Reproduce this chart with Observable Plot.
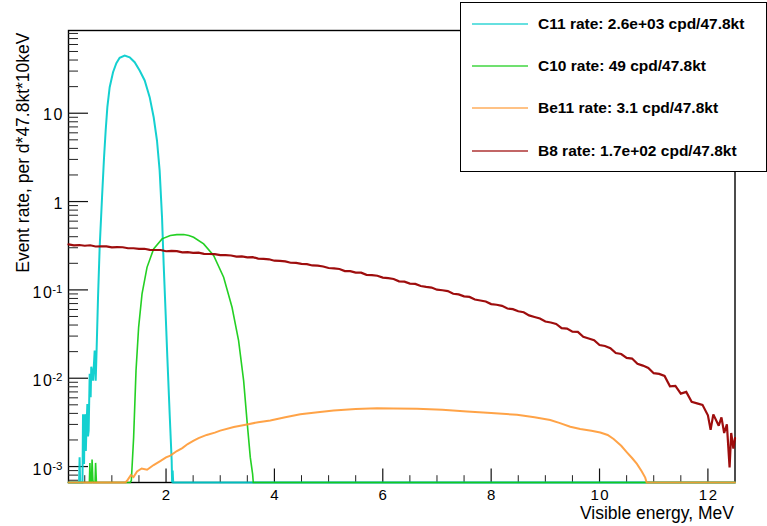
<!DOCTYPE html>
<html><head><meta charset="utf-8">
<script src="https://cdn.jsdelivr.net/npm/d3@7"></script>
<script src="https://cdn.jsdelivr.net/npm/@observablehq/plot@0.6"></script>
<style>
html,body{margin:0;padding:0;background:#fff;}
#wrap{position:relative;width:767px;height:526px;overflow:hidden;font-family:"Liberation Sans",Arial,sans-serif;}
#legend{position:absolute;left:460px;top:2px;width:307px;height:170px;box-sizing:border-box;border:1px solid #000;background:#fff;}
.entry-line{position:absolute;left:11px;width:56px;height:2px;opacity:0.6;}
.entry-text{position:absolute;left:77px;font-weight:bold;font-size:15.5px;line-height:18px;white-space:nowrap;color:#000;}
</style></head><body><div id="wrap"></div>
<script>
// ---- series (energy MeV, rate per d*47.8kt*10keV); 0 = empty bin ----
const c11 = [
[0.20,0],[0.395,0],[0.405,0.00127],[0.415,0],[0.458,0],[0.468,0.0039],[0.478,0.0012],[0.487,0.00107],[0.498,0.0037],[0.511,0.0039],[0.520,0.0015],[0.530,0.00255],[0.548,0.0051],[0.560,0.0022],[0.572,0.00255],[0.591,0.0112],[0.609,0.0061],[0.620,0.0135],[0.634,0.0120],[0.653,0.0094],[0.683,0.0206],[0.702,0.0094],[0.720,0.0224],[0.745,0.0824],[0.775,0.303],[0.819,1.12],[0.856,3.18],[0.886,6.37],[0.917,11.7],[0.960,19.7],[1.022,29.1],[1.083,36.8],[1.144,42.4],[1.237,45.0],[1.329,43.0],[1.421,37.8],[1.513,30.5],[1.606,23.5],[1.698,15.2],[1.772,9.0],[1.833,4.91],[1.882,2.24],[1.926,0.664],[1.956,0.197],[1.993,0.0534],[2.024,0.0173],[2.067,0.00394],[2.104,0.00117],[2.112,0],[2.122,0.0009],[2.132,0],[12.5,0]
];
const c10 = [
[0.20,0],[0.585,0],[0.595,0.0011],[0.605,0],[0.625,0],[0.635,0.0012],[0.650,0.0007],[0.660,0],[0.690,0],[0.700,0.0011],[0.715,0],[1.340,0],[1.360,0.0007],[1.402,0.00214],[1.446,0.0122],[1.494,0.0377],[1.557,0.090],[1.649,0.180],[1.771,0.291],[1.926,0.378],[2.079,0.412],[2.200,0.422],[2.325,0.423],[2.420,0.412],[2.509,0.394],[2.694,0.332],[2.878,0.245],[3.063,0.139],[3.218,0.0636],[3.339,0.0267],[3.432,0.0094],[3.494,0.00331],[3.555,0.00127],[3.598,0.00082],[3.610,0],[12.5,0]
];
const be11 = [
[0.20,0],[1.250,0],[1.280,0.00069],[1.350,0.00080],[1.400,0.00076],[1.465,0.00088],[1.550,0.00095],[1.650,0.00092],[1.771,0.00104],[1.900,0.00116],[2.000,0.00127],[2.079,0.00133],[2.200,0.00150],[2.300,0.00162],[2.400,0.00180],[2.510,0.00196],[2.600,0.00210],[2.750,0.00228],[2.900,0.00242],[3.000,0.00255],[3.250,0.00280],[3.494,0.00300],[3.700,0.00318],[3.924,0.00333],[4.200,0.00362],[4.478,0.00392],[4.800,0.00412],[5.092,0.00430],[5.500,0.00447],[5.893,0.00458],[6.200,0.00455],[6.631,0.00450],[7.100,0.00440],[7.554,0.00420],[8.000,0.00405],[8.476,0.00385],[8.800,0.00362],[9.090,0.00336],[9.270,0.00310],[9.460,0.00282],[9.644,0.00266],[9.850,0.00255],[10.013,0.00243],[10.150,0.00228],[10.260,0.00205],[10.400,0.00172],[10.505,0.00145],[10.600,0.00125],[10.690,0.00107],[10.780,0.00088],[10.843,0.00075],[10.870,0],[12.5,0]
];
const b8 = [
[0.2,0.327],[0.3,0.319],[0.4,0.322],[0.5,0.316],[0.6,0.320],[0.7,0.310],[0.8,0.311],[0.9,0.311],[1.0,0.303],[1.1,0.305],
[1.2,0.304],[1.3,0.296],[1.4,0.296],[1.5,0.291],[1.6,0.292],[1.7,0.284],[1.8,0.283],[1.9,0.283],[2.0,0.274],[2.1,0.276],
[2.2,0.275],[2.3,0.266],[2.4,0.268],[2.5,0.263],[2.6,0.264],[2.7,0.256],[2.8,0.255],[2.9,0.254],[3.0,0.247],[3.1,0.247],
[3.2,0.245],[3.3,0.238],[3.4,0.239],[3.5,0.234],[3.6,0.235],[3.7,0.226],[3.8,0.224],[3.9,0.222],[4.0,0.214],[4.1,0.213],
[4.2,0.210],[4.3,0.203],[4.4,0.202],[4.5,0.197],[4.6,0.196],[4.7,0.189],[4.8,0.188],[4.9,0.184],[5.0,0.177],[5.1,0.175],
[5.2,0.1725],[5.3,0.1635],[5.4,0.1633],[5.5,0.1567],[5.6,0.1568],[5.7,0.1482],[5.8,0.147],[5.9,0.1447],[6.0,0.1379],[6.1,0.1358],
[6.2,0.133],[6.3,0.1251],[6.4,0.124],[6.5,0.118],[6.6,0.117],[6.7,0.1107],[6.8,0.108],[6.9,0.1063],[7.0,0.1005],[7.1,0.0991],
[7.2,0.0969],[7.3,0.0904],[7.4,0.0890],[7.5,0.0844],[7.6,0.0833],[7.7,0.0778],[7.8,0.0759],[7.9,0.0739],[8.0,0.0691],[8.1,0.0679],
[8.2,0.0660],[8.3,0.0616],[8.4,0.0606],[8.5,0.0573],[8.6,0.0558],[8.7,0.0514],[8.8,0.0494],[8.9,0.0475],[9.0,0.0438],[9.1,0.0427],
[9.2,0.0412],[9.3,0.0369],[9.4,0.0365],[9.5,0.0337],[9.6,0.0335],[9.7,0.0295],[9.8,0.0282],[9.9,0.0270],[10.0,0.0238],[10.1,0.0232],
[10.2,0.0219],[10.3,0.0193],[10.4,0.0188],[10.5,0.0170],[10.6,0.0167],[10.7,0.0146],[10.8,0.0139],[10.9,0.0131],[11.0,0.0114],[11.1,0.0112],
[11.2,0.0106],[11.3,0.0081],[11.4,0.0082],[11.5,0.0067],[11.6,0.0070],[11.7,0.0054],[11.8,0.0052],[11.9,0.0050],[12.0,0.0038],[12.05,0.0026],
[12.1,0.0039],[12.2,0.0029],[12.25,0.0036],[12.3,0.0024],[12.35,0.0030],[12.4,0.00098],[12.43,0.0024],[12.47,0.0016],[12.5,0.0021]
];

// ---- legend ----
const seriesNames  = ["C11", "C10", "Be11", "B8"];
const seriesRates  = ["2.6e+03", "49", "3.1", "1.7e+02"];
const seriesColors = ["#00cccc", "#11cc11", "#ff9933", "#990000"];

// ---- axes ----
const xDomain = [0.2, 12.5];
const yDomain = [6.6e-4, 86.4];
const xMajorTicks = [2, 4, 6, 8, 10, 12];
const xMinorTicks = [0.5, 1, 1.5, 2.5, 3, 3.5, 4.5, 5, 5.5, 6.5, 7, 7.5, 8.5, 9, 9.5, 10.5, 11, 11.5];
const yMajorTicks = [0.001, 0.01, 0.1, 1, 10];
const yMinorTicks = [7e-4, 8e-4, 9e-4,
  2e-3, 3e-3, 4e-3, 5e-3, 6e-3, 7e-3, 8e-3, 9e-3,
  0.02, 0.03, 0.04, 0.05, 0.06, 0.07, 0.08, 0.09,
  0.2, 0.3, 0.4, 0.5, 0.6, 0.7, 0.8, 0.9,
  2, 3, 4, 5, 6, 7, 8, 9,
  20, 30, 40, 50, 60, 70, 80];
const yLabelValues = [10, 1, 0.1, 0.01, 0.001];
const yLabelBase = ["10", "1", "10", "10", "10"];
const yLabelExp  = ["", "", "-1", "-2", "-3"];
const xTitle = "Visible energy, MeV";
const yTitle = "Event rate, per d*47.8kt*10keV";

const YMIN = yDomain[0];
const series = [c11, c10, be11, b8];
const widths = [2, 1.6, 2, 2.2];
const opacities = [0.92, 0.92, 0.9, 0.95];

const chart = Plot.plot({
  width: 767, height: 526,
  marginLeft: 68, marginRight: 32.5, marginTop: 30, marginBottom: 44,
  x: {domain: xDomain, axis: null},
  y: {type: "log", domain: yDomain, axis: null},
  style: {fontFamily: "'Liberation Sans', Arial, sans-serif", background: "white", color: "black"},
  marks: [
    Plot.frame({stroke: "black", strokeWidth: 1.4}),
    Plot.axisX(xMinorTicks, {anchor: "bottom", tickSize: -6.8, tickFormat: () => "", label: null, stroke: "#222"}),
    Plot.axisX(xMajorTicks, {anchor: "bottom", tickSize: -13.5, tickFormat: () => "", label: null, stroke: "#111", strokeWidth: 1.2}),
    Plot.axisY(yMinorTicks, {anchor: "left", tickSize: -10, tickFormat: () => "", label: null, stroke: "#222"}),
    Plot.axisY(yMajorTicks, {anchor: "left", tickSize: -20, tickFormat: () => "", label: null, stroke: "#111", strokeWidth: 1.2}),
    // x tick labels
    Plot.text(xMajorTicks, {x: d => d, text: d => String(d), frameAnchor: "bottom", lineAnchor: "top", dy: 6.5, dx: 0.8, fontSize: 15, fill: "black", ariaDescription: "numlabels"}),
    // y tick labels
    Plot.text(yLabelValues, {filter: (d, i) => yLabelExp[i] === "", y: d => d, text: (d, i) => yLabelBase[i], frameAnchor: "left", textAnchor: "end", lineAnchor: "middle", dx: -4.5, dy: 2, fontSize: 16, fill: "black", ariaDescription: "numlabels"}),
    Plot.text(yLabelValues, {filter: (d, i) => yLabelExp[i] !== "", y: d => d, text: (d, i) => yLabelBase[i], frameAnchor: "left", textAnchor: "end", lineAnchor: "middle", dx: -15, dy: 3, fontSize: 16, fill: "black", ariaDescription: "numlabels"}),
    Plot.text(yLabelValues, {filter: (d, i) => yLabelExp[i] !== "", y: d => d, text: (d, i) => yLabelExp[i], frameAnchor: "left", textAnchor: "end", lineAnchor: "middle", dx: -6, dy: -0.5, fontSize: 11.5, fill: "black"}),
    // axis titles
    Plot.text([xTitle], {frameAnchor: "bottom-right", textAnchor: "end", lineAnchor: "bottom", dy: 36.3, dx: -1, fontSize: 17.5, fill: "black"}),
    Plot.text([yTitle], {frameAnchor: "top-left", rotate: -90, textAnchor: "end", lineAnchor: "bottom", dx: -40, dy: 2, fontSize: 17.5, fill: "black"}),
    // curves
    ...series.map((s, k) => Plot.line(s, {
      x: d => d[0], y: d => Math.max(d[1], YMIN),
      stroke: seriesColors[k], strokeWidth: widths[k], strokeOpacity: opacities[k],
      strokeLinejoin: "miter", strokeMiterlimit: 2
    }))
  ]
});

d3.select(chart).selectAll('g[aria-description="numlabels"] text').attr("letter-spacing", "1.6px");

const wrap = document.getElementById("wrap");
wrap.appendChild(chart);

const legend = document.createElement("div");
legend.id = "legend";
const rowCenters = [21, 62.7, 105.3, 147.7];
seriesNames.forEach((name, k) => {
  const ln = document.createElement("div");
  ln.className = "entry-line";
  ln.style.top = (rowCenters[k] - 1) + "px";
  ln.style.background = seriesColors[k];
  legend.appendChild(ln);
  const tx = document.createElement("div");
  tx.className = "entry-text";
  tx.style.top = (rowCenters[k] - 9) + "px";
  tx.textContent = `${name} rate: ${seriesRates[k]} cpd/47.8kt`;
  legend.appendChild(tx);
});
wrap.appendChild(legend);
</script></body></html>
